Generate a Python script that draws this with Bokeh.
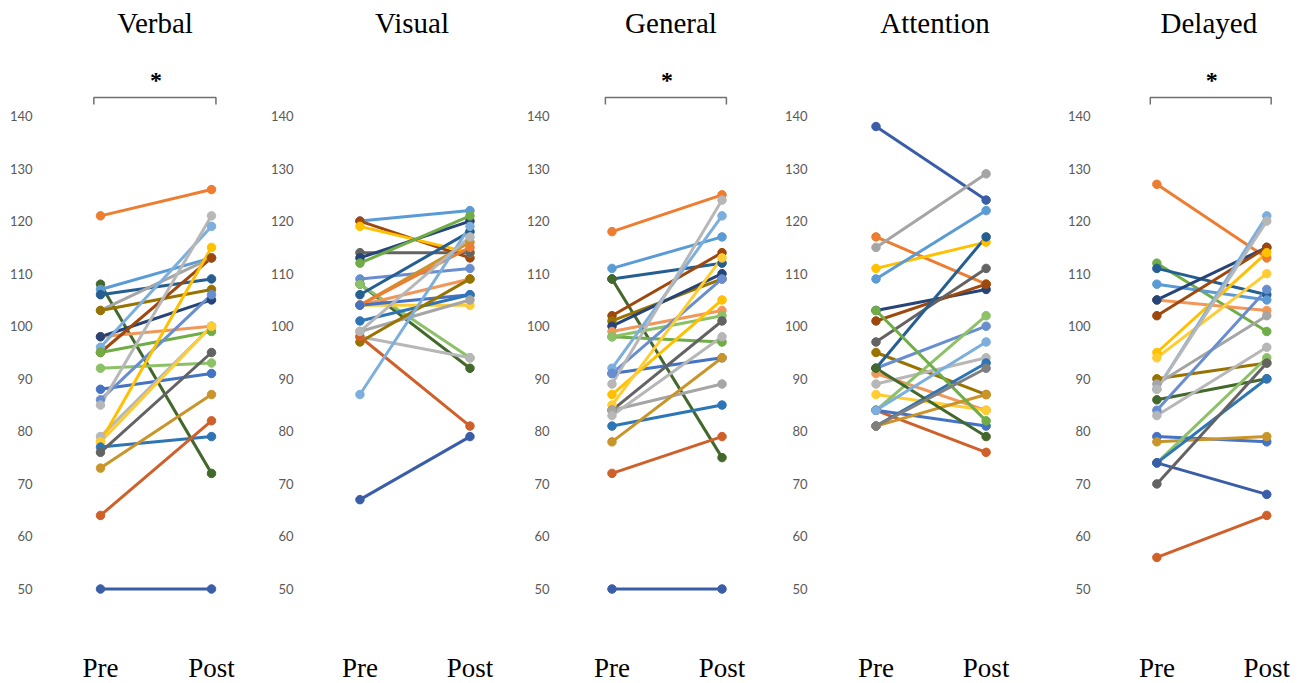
from bokeh.plotting import figure
from bokeh.layouts import row
from bokeh.models import ColumnDataSource, Range1d, FixedTicker
from bokeh.core.properties import value
from bokeh.embed import file_html
from bokeh.resources import INLINE

# ---------------- data ----------------
categories = ["Pre", "Post"]
y_ticks = [50, 60, 70, 80, 90, 100, 110, 120, 130, 140]
panel_titles = ["Verbal", "Visual", "General", "Attention", "Delayed"]
significant = [True, False, True, False, True]

verbal_pre = [121, 108, 107, 106, 103, 103, 98, 98, 96, 95, 95, 92, 88, 86, 85, 79, 78, 78, 77, 76, 73, 64, 50]
verbal_post = [126, 72, 113, 109, 113, 107, 100, 105, 119, 113, 99, 93, 91, 106, 121, 100, 115, 100, 79, 95, 87, 82, 50]
verbal_colors = ["orange", "dgreen", "lblue", "dblue", "gray", "dgold", "lorange", "navy", "llblue", "brown",
                 "green", "lgreen", "blue", "mblue", "lgray", "lgray", "gold", "gold2", "blue2", "dgray",
                 "dgold2", "dorange", "blue3"]

visual_pre = [120, 120, 119, 114, 113, 112, 109, 108, 108, 106, 104, 104, 104, 104, 104, 101, 99, 98, 97, 98, 87, 67, 99]
visual_post = [122, 113, 114, 114, 120, 121, 111, 92, 94, 118, 104, 109, 116, 115, 106, 106, 105, 94, 109, 81, 119, 79, 117]
visual_colors = ["lblue", "brown", "gold", "dgray", "navy", "green", "mblue", "dgreen", "lgreen", "dblue",
                 "gold2", "lorange", "dgold2", "orange", "blue", "blue2", "gray", "lgray", "dgold", "dorange",
                 "llblue", "blue3", "lgray"]

general_pre = [118, 111, 109, 109, 102, 101, 100, 99, 98, 98, 92, 91, 91, 89, 87, 85, 84, 84, 83, 81, 78, 72, 50]
general_post = [125, 117, 112, 75, 114, 109, 110, 103, 97, 102, 121, 94, 109, 124, 105, 113, 101, 89, 98, 85, 94, 79, 50]
general_colors = ["orange", "lblue", "dblue", "dgreen", "brown", "dgold", "navy", "lorange", "green", "lgreen",
                  "llblue", "blue", "mblue", "lgray", "gold", "gold2", "dgray", "gray", "lgray", "blue2",
                  "dgold2", "dorange", "blue3"]

attention_pre = [138, 117, 115, 111, 109, 103, 101, 97, 95, 92, 92, 91, 89, 87, 84, 84, 84, 81, 81, 103, 92, 84, 81]
attention_post = [124, 108, 129, 116, 122, 107, 108, 111, 87, 100, 117, 84, 94, 84, 76, 102, 81, 93, 87, 82, 79, 97, 92]
attention_colors = ["blue3", "orange", "gray", "gold", "lblue", "navy", "brown", "dgray", "dgold", "mblue",
                    "dblue", "lorange", "lgray", "gold2", "dorange", "lgreen", "blue", "blue2", "dgold2", "green",
                    "dgreen", "llblue", "mgray"]

delayed_pre = [127, 112, 111, 108, 105, 105, 102, 95, 94, 90, 89, 88, 88, 86, 84, 83, 79, 78, 74, 74, 74, 70, 56]
delayed_post = [113, 99, 106, 105, 103, 115, 115, 114, 110, 93, 102, 121, 120, 90, 107, 96, 78, 79, 94, 90, 68, 93, 64]
delayed_colors = ["orange", "green", "dblue", "lblue", "lorange", "navy", "brown", "gold", "gold2", "dgold",
                  "gray", "llblue", "lgray", "dgreen", "mblue", "lgray", "blue", "dgold2", "lgreen", "blue2",
                  "blue3", "dgray", "dorange"]

PALETTE = {
    "blue": "#4472C4", "blue2": "#2E75B6", "blue3": "#3A5DA8", "orange": "#ED7D31", "gray": "#A5A5A5",
    "gold": "#FFC000", "lblue": "#5B9BD5", "green": "#70AD47", "navy": "#264478", "brown": "#9E480E",
    "dgray": "#636363", "dgold": "#997300", "dblue": "#255E91", "dgreen": "#43682B", "mblue": "#698ED0",
    "lorange": "#F1975A", "lgray": "#B7B7B7", "gold2": "#FFCD33", "llblue": "#7CAFDD", "lgreen": "#8CC168",
    "dgold2": "#C9952B", "dorange": "#D0602A", "mgray": "#7F7F7F",
}

panels_pre = [verbal_pre, visual_pre, general_pre, attention_pre, delayed_pre]
panels_post = [verbal_post, visual_post, general_post, attention_post, delayed_post]
panels_colors = [verbal_colors, visual_colors, general_colors, attention_colors, delayed_colors]

# ---------------- layout constants (pixels) ----------------
fig_widths = [267, 256, 258, 283, 230]
border_lefts = [36, 28, 28, 28, 28]
pre_offsets = [64, 63, 59, 65, 63]
title_dx = [-1, -3, 4, 4, -3]
FIG_H = 683
PAGE_TOP = 0
PX_PER_X = 111.0
Y_PX = 473.0 / 90.0
Y140_PAGE = 115.5
TITLE_PAGE_Y = 22
STAR_PAGE_Y = 79
BRACKET_PAGE_Y = 97
BRACKET_TICK = 7
CAT_PAGE_Y = 667


def page_to_value(py):
    return 140 + (Y140_PAGE - py) / Y_PX


x_pre = categories.index("Pre")
x_post = categories.index("Post")

figs = []
for i, title in enumerate(panel_titles):
    w = fig_widths[i]
    bl = border_lefts[i]
    frame_w = w - bl
    x0 = -pre_offsets[i] / PX_PER_X
    x1 = x0 + frame_w / PX_PER_X
    y_top = page_to_value(PAGE_TOP)
    y_bot = page_to_value(PAGE_TOP + FIG_H)

    p = figure(width=w, height=FIG_H, output_backend="svg", toolbar_location=None,
               x_range=Range1d(x0, x1), y_range=Range1d(y_bot, y_top),
               min_border_left=bl, min_border_right=0,
               min_border_top=0, min_border_bottom=0)
    p.outline_line_color = None
    p.xgrid.visible = False
    p.ygrid.visible = False
    p.background_fill_color = "white"
    p.border_fill_color = "white"
    p.xaxis.visible = False

    ya = p.yaxis[0]
    ya.ticker = FixedTicker(ticks=y_ticks)
    ya.axis_line_color = None
    ya.major_tick_line_color = None
    ya.minor_tick_line_color = None
    ya.major_tick_out = 0
    ya.major_tick_in = 0
    ya.major_label_text_font = "Lato"
    ya.major_label_text_font_size = "13px"
    ya.major_label_text_color = "#595959"
    ya.major_label_standoff = 4

    # panel title
    p.text(x=[(x_pre + x_post) / 2 + title_dx[i] / PX_PER_X], y=[page_to_value(TITLE_PAGE_Y)], text=[title],
           text_font=value("Liberation Serif"), text_font_size="29px", text_align="center",
           text_baseline="middle", text_color="#000000")
    # category labels (Pre / Post)
    p.text(x=[x_pre, x_post], y=[page_to_value(CAT_PAGE_Y)] * 2, text=categories,
           text_font=value("Liberation Serif"), text_font_size="27px", text_align="center",
           text_baseline="middle", text_color="#000000")

    pre = panels_pre[i]
    post = panels_post[i]
    cols = [PALETTE[c] for c in panels_colors[i]]
    src = ColumnDataSource(dict(x0=[x_pre] * len(pre), x1=[x_post] * len(post), pre=pre, post=post, color=cols))
    p.segment(x0="x0", y0="pre", x1="x1", y1="post", source=src, line_color="color", line_width=3)
    p.scatter(x="x0", y="pre", source=src, size=8.5, fill_color="color", line_color="color")
    p.scatter(x="x1", y="post", source=src, size=8.5, fill_color="color", line_color="color")

    if significant[i]:
        yb = page_to_value(BRACKET_PAGE_Y)
        yt = page_to_value(BRACKET_PAGE_Y + BRACKET_TICK)
        p.line(x=[x_pre - 0.06, x_pre - 0.06, x_post + 0.04, x_post + 0.04],
               y=[yt, yb, yb, yt], line_color="#707070", line_width=1.5)
        p.text(x=[(x_pre + x_post) / 2], y=[page_to_value(STAR_PAGE_Y)], text=["*"],
               text_font=value("Liberation Serif"), text_font_size="24px", text_align="center",
               text_baseline="middle", text_color="#000000", text_font_style="bold")
    figs.append(p)

layout = row(*figs)
open("out.html", "w").write(file_html(layout, INLINE))
